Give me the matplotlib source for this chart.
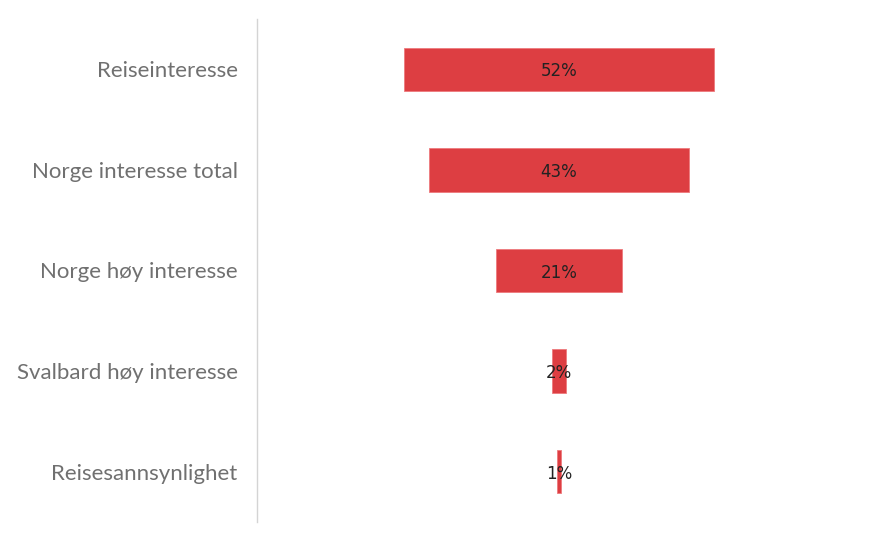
import matplotlib.pyplot as plt
import numpy as np

# funnel steps (top to bottom)
categories = ["Reiseinteresse", "Norge interesse total", "Norge høy interesse",
              "Svalbard høy interesse", "Reisesannsynlighet"]
values = [52.0, 43.4, 21.2, 2.5, 0.6]
labels = ["52%", "43%", "21%", "2%", "1%"]

bar_color = "#dd3e42"

fig = plt.figure(figsize=(8.8, 5.42), dpi=100)
ax = fig.add_axes([257 / 880, 20 / 542, (861 - 257) / 880, (523 - 20) / 542])

y = np.arange(len(categories))
vals = np.array(values)
ax.barh(y, vals, left=-vals / 2, height=0.43, color=bar_color,
        edgecolor="#ee7a7d", linewidth=0.6)

for yi, lab in zip(y, labels):
    ax.text(0, yi + 0.02, lab, ha="center", va="center", fontsize=12,
            color="#222222", family="DejaVu Sans")

ax.set_xlim(-50.5, 50.5)
ax.set_ylim(len(categories) - 0.5, -0.5)
ax.set_yticks(y)
ax.set_yticklabels(categories, fontsize=16, color="#707070",
                   family=["Lato", "DejaVu Sans"])
ax.tick_params(axis="y", length=0, pad=14)
ax.set_xticks([])

for s in ["top", "right", "bottom"]:
    ax.spines[s].set_visible(False)
ax.spines["left"].set_color("#d4d4d4")
ax.spines["left"].set_linewidth(1)

fig.savefig("out.png", dpi=100)
